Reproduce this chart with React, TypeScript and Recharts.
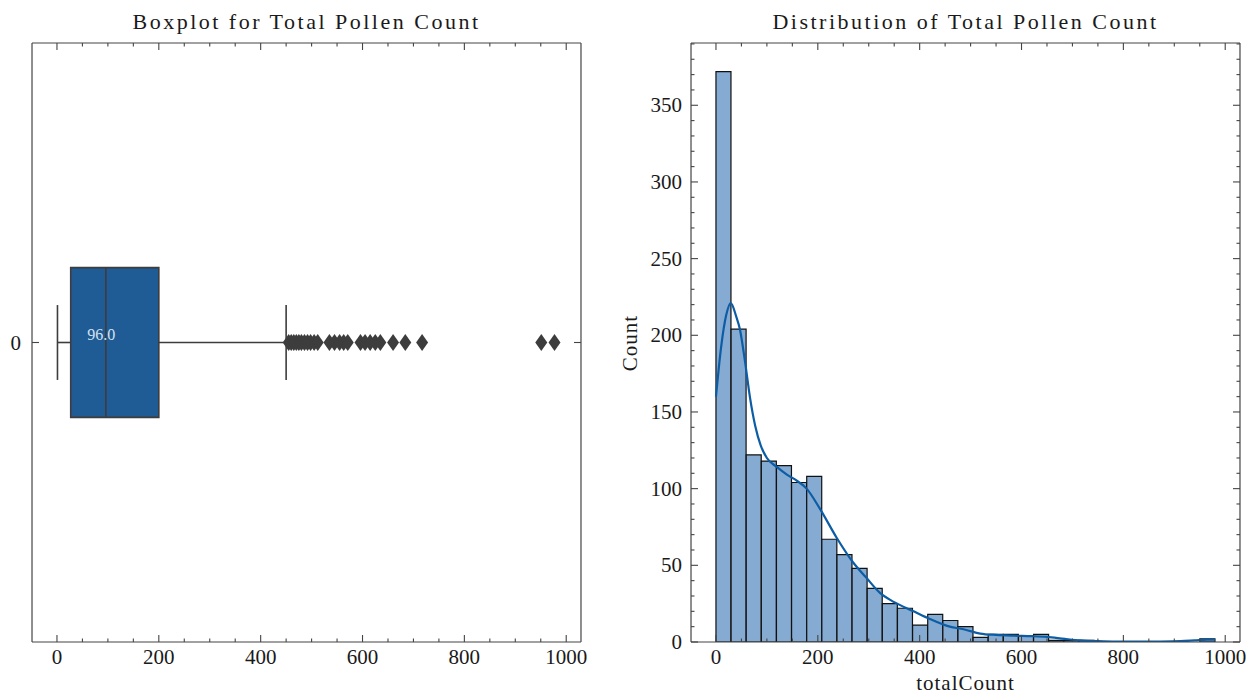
import {
  ComposedChart,
  Bar,
  Line,
  Scatter,
  XAxis,
  YAxis,
  ReferenceArea,
  ReferenceLine,
  ReferenceDot,
  Cell,
} from "recharts";

const FONT = '"Liberation Serif", "DejaVu Serif", serif';
const FRAME = "#444";
const TEXT = "#1a1a1a";
const THIN = 0.01; // axes need a non-zero size to be drawn

// shared x axis
const X_DOMAIN = [-49, 1029];
const X_MAJOR = [0, 200, 400, 600, 800, 1000];
const X_MINOR = [
  0, 50, 100, 150, 200, 250, 300, 350, 400, 450, 500, 550, 600, 650, 700, 750,
  800, 850, 900, 950, 1000,
];

// boxplot stats
const BOX_MIN = 1;
const BOX_Q1 = 27;
const BOX_MEDIAN = 96;
const BOX_Q3 = 200;
const BOX_MAX = 450;
const BOX_HALF = 0.125;
const OUTLIERS = [
  455, 460, 465, 470, 475, 480, 486, 492, 498, 505, 512, 535, 545, 555, 563,
  571, 596, 605, 615, 625, 635, 660, 684, 717, 951, 977,
];

// histogram
const BIN_WIDTH = 29.7;
const COUNTS = [
  372, 204, 122, 118, 115, 104, 108, 67, 57, 48, 35, 25, 22, 11, 18, 14, 10, 3,
  5, 5, 4, 5, 1, 1, 1, 0, 0, 0, 0, 0, 0, 0, 2,
];
const Y_MAJOR = [0, 50, 100, 150, 200, 250, 300, 350];
const Y_MINOR = [
  0, 10, 20, 30, 40, 50, 60, 70, 80, 90, 100, 110, 120, 130, 140, 150, 160, 170,
  180, 190, 200, 210, 220, 230, 240, 250, 260, 270, 280, 290, 300, 310, 320,
  330, 340, 350, 360, 370, 380, 390,
];

// kde curve
const KDE_X = [
  0, 10, 20, 29, 40, 47, 57, 67, 77, 88, 100, 120, 140, 155, 178, 204, 237, 269,
  295, 322, 350, 388, 420, 454, 490, 519, 550, 585, 620, 650, 685, 716, 750,
  782, 820, 860, 912, 940, 965, 980,
];
const KDE_Y = [
  160, 192, 213, 221, 212, 204, 183, 159, 141, 128, 120, 114, 109, 106, 100, 87,
  68, 52, 42, 32, 26, 20, 15, 10.5, 8, 5.5, 4.6, 4.1, 3.8, 3.3, 2, 1, 0.5, 0.3,
  0.2, 0.3, 0.5, 1, 1.5, 1.5,
];

const outlierPoints = OUTLIERS.map((v) => ({ x: v, y: 0 }));
const lowerWhisker = [
  { x: BOX_MIN, y: 0 },
  { x: BOX_Q1, y: 0 },
];
const upperWhisker = [
  { x: BOX_Q3, y: 0 },
  { x: BOX_MAX, y: 0 },
];
const bins = COUNTS.map((c, i) => ({ mid: (i + 0.5) * BIN_WIDTH, count: c }));
const kde = KDE_X.map((x, i) => ({ x, y: KDE_Y[i] }));

type Side = "bottom" | "top" | "left" | "right";

// inward tick marks (long for majors, short for minors), labels on bottom/left
function makeTick(side: Side, majors: number[], labelGap: number, fmt?: (v: number) => string) {
  return (props: any) => {
    const { x, y, payload } = props;
    const v = payload.value;
    const major = majors.includes(v);
    const len = major ? 7 : 3.5;
    let line;
    if (side === "bottom") line = { x1: x, x2: x, y1: y, y2: y - len };
    else if (side === "top") line = { x1: x, x2: x, y1: y, y2: y + len };
    else if (side === "left") line = { x1: x, x2: x + len, y1: y, y2: y };
    else line = { x1: x, x2: x - len, y1: y, y2: y };
    const text = fmt ? fmt(v) : String(v);
    return (
      <g>
        <line {...line} stroke={FRAME} strokeWidth={1.1} />
        {major && side === "bottom" && (
          <text x={x} y={y + labelGap} textAnchor="middle" fontSize={21} fontFamily={FONT} fill={TEXT}>
            {text}
          </text>
        )}
        {major && side === "left" && (
          <text x={x - labelGap} y={y + 7} textAnchor="end" fontSize={21} fontFamily={FONT} fill={TEXT}>
            {text}
          </text>
        )}
      </g>
    );
  };
}

function frameAxes(
  yDomain: number[],
  yMajor: number[],
  yTicks: number[],
  yGap: number,
  yFmt?: (v: number) => string
) {
  const common = {
    type: "number" as const,
    allowDataOverflow: true,
    tickSize: 0,
    tickMargin: 0,
    tickLine: false,
    interval: 0 as const,
    axisLine: { stroke: FRAME, strokeWidth: 1.2 },
  };
  return [
    <XAxis
      key="xb"
      {...common}
      xAxisId="main"
      dataKey="x"
      domain={X_DOMAIN}
      ticks={X_MINOR}
      height={THIN}
      tick={makeTick("bottom", X_MAJOR, 22)}
    />,
    <XAxis
      key="xt"
      {...common}
      xAxisId="top"
      orientation="top"
      dataKey="x"
      domain={X_DOMAIN}
      ticks={X_MINOR}
      height={THIN}
      tick={makeTick("top", X_MAJOR, 0)}
    />,
    <YAxis
      key="yl"
      {...common}
      yAxisId="main"
      dataKey="y"
      domain={yDomain}
      ticks={yTicks}
      width={THIN}
      tick={makeTick("left", yMajor, yGap, yFmt)}
    />,
    <YAxis
      key="yr"
      {...common}
      yAxisId="right"
      orientation="right"
      dataKey="y"
      domain={yDomain}
      ticks={yTicks}
      width={THIN}
      tick={makeTick("right", yMajor, 0)}
    />,
  ];
}

function Diamond(props: any) {
  const { cx, cy } = props;
  return (
    <path
      d={`M${cx},${cy - 8.5} L${cx + 6},${cy} L${cx},${cy + 8.5} L${cx - 6},${cy} Z`}
      fill="#3d3d3d"
    />
  );
}

function BoxPanel() {
  const ax = { xAxisId: "main", yAxisId: "main" };
  const line = { stroke: "#3d3d3d", strokeWidth: 1.6 };
  return (
    <ComposedChart
      width={600}
      height={699}
      data={outlierPoints}
      margin={{ top: 43, right: 19, bottom: 57, left: 32 }}
    >
      {frameAxes([-0.5, 0.5], [0], [0], 11, () => "0")}
      {/* whiskers live on the top/right axes (same domains) */}
      <Line
        xAxisId="top"
        yAxisId="right"
        data={lowerWhisker}
        dataKey="y"
        {...line}
        dot={false}
        isAnimationActive={false}
      />
      <Line
        xAxisId="top"
        yAxisId="right"
        data={upperWhisker}
        dataKey="y"
        {...line}
        dot={false}
        isAnimationActive={false}
      />
      <ReferenceArea
        {...ax}
        x1={BOX_Q1}
        x2={BOX_Q3}
        y1={-BOX_HALF}
        y2={BOX_HALF}
        fill="#1f5b94"
        fillOpacity={1}
        stroke="#3d3d3d"
        strokeWidth={1.6}
      />
      <ReferenceLine {...ax} {...line} segment={[{ x: BOX_MIN, y: -BOX_HALF / 2 }, { x: BOX_MIN, y: BOX_HALF / 2 }]} />
      <ReferenceLine {...ax} {...line} segment={[{ x: BOX_MAX, y: -BOX_HALF / 2 }, { x: BOX_MAX, y: BOX_HALF / 2 }]} />
      <ReferenceLine {...ax} {...line} segment={[{ x: BOX_MEDIAN, y: -BOX_HALF }, { x: BOX_MEDIAN, y: BOX_HALF }]} />
      <ReferenceDot
        {...ax}
        x={BOX_MEDIAN}
        y={0}
        r={0}
        fill="none"
        stroke="none"
        label={(p: any) => (
          <text
            x={p.viewBox.x - 4.5}
            y={p.viewBox.y - 3}
            textAnchor="middle"
            fontSize={16}
            fontFamily={FONT}
            fill="#d6e2ef"
          >
            {BOX_MEDIAN.toFixed(1)}
          </text>
        )}
      />
      <Scatter {...ax} dataKey="y" shape={Diamond} isAnimationActive={false} />
    </ComposedChart>
  );
}

function HistPanel() {
  return (
    <ComposedChart
      width={632}
      height={699}
      data={bins}
      margin={{ top: 43, right: 12, bottom: 57, left: 71 }}
      barCategoryGap={0}
      barGap={0}
    >
      {frameAxes([0, 390.6], Y_MAJOR, Y_MINOR, 9)}
      <XAxis xAxisId="bins" type="number" dataKey="mid" domain={X_DOMAIN} allowDataOverflow height={THIN} hide />
      <Bar
        xAxisId="bins"
        yAxisId="main"
        dataKey="count"
        fill="#86abd2"
        stroke="#111"
        strokeWidth={1.2}
        isAnimationActive={false}
      >
        {bins.map((b, i) => (
          <Cell key={i} stroke={b.count > 0 ? "#111" : "none"} />
        ))}
      </Bar>
      {/* kde drawn against the top/right axes, which share the same domains */}
      <Line
        xAxisId="top"
        yAxisId="right"
        data={kde}
        dataKey="y"
        type="monotone"
        stroke="#0c5da5"
        strokeWidth={2.2}
        dot={false}
        isAnimationActive={false}
      />
    </ComposedChart>
  );
}

export default function App() {
  const label = {
    position: "absolute" as const,
    fontFamily: FONT,
    color: TEXT,
    whiteSpace: "nowrap" as const,
  };
  return (
    <div style={{ position: "absolute", left: 0, top: 0, width: 1252, height: 699, background: "#fff" }}>
      <div style={{ position: "absolute", left: 0, top: 0 }}>
        <BoxPanel />
      </div>
      <div style={{ position: "absolute", left: 620, top: 0 }}>
        <HistPanel />
      </div>
      <div style={{ ...label, left: 32, top: 11, width: 549, textAlign: "center", fontSize: 22, lineHeight: "22px", letterSpacing: 2.5 }}>
        Boxplot for Total Pollen Count
      </div>
      <div style={{ ...label, left: 691, top: 11, width: 549, textAlign: "center", fontSize: 22, lineHeight: "22px", letterSpacing: 2.5 }}>
        Distribution of Total Pollen Count
      </div>
      <div style={{ ...label, left: 691, top: 673, width: 549, textAlign: "center", fontSize: 21, lineHeight: "21px", letterSpacing: 1 }}>
        totalCount
      </div>
      <div
        style={{
          ...label,
          left: 630,
          top: 343,
          fontSize: 21,
          lineHeight: "21px",
          letterSpacing: 1,
          transform: "translate(-50%, -50%) rotate(-90deg)",
        }}
      >
        Count
      </div>
    </div>
  );
}
